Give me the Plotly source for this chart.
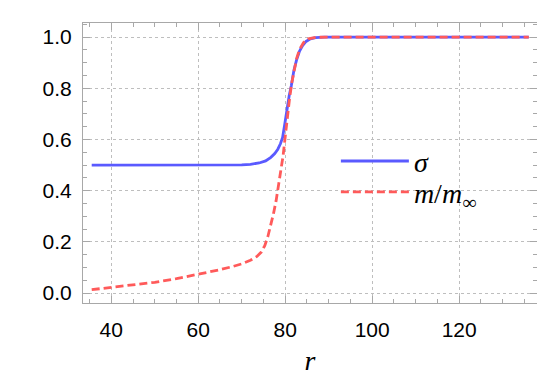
import plotly.graph_objects as go

# sigma profile
r_sigma = [35.5, 50, 65, 70, 72, 74, 75.5, 76.7, 77.6, 78.3, 78.9, 79.4, 79.9, 80.4,
           80.9, 81.4, 82.0, 82.6, 83.3, 84.0, 84.8, 85.8, 87.0, 89.0, 95, 110, 136]
sigma = [0.5, 0.5, 0.5, 0.501, 0.503, 0.508, 0.516, 0.53, 0.545, 0.562, 0.583, 0.608,
         0.66, 0.72, 0.77, 0.81, 0.87, 0.91, 0.945, 0.967, 0.983, 0.993, 0.998, 1.0,
         1.0, 1.0, 1.0]

# mass ratio m/m_inf
r_mass = [35.5, 40, 45, 50, 55, 60, 65, 68, 70, 72, 73.5, 74.5, 75.3, 76.0, 76.7, 77.3,
          77.9, 78.5, 79.0, 79.5, 80.0, 80.5, 81.0, 81.5, 82.0, 82.6, 83.3, 84.2, 85.3,
          87, 90, 100, 136]
mass = [0.013, 0.022, 0.031, 0.042, 0.056, 0.072, 0.091, 0.104, 0.114, 0.128, 0.143,
        0.16, 0.185, 0.22, 0.265, 0.31, 0.36, 0.42, 0.47, 0.535, 0.61, 0.70, 0.76, 0.82,
        0.87, 0.915, 0.952, 0.978, 0.993, 0.999, 1.0, 1.0, 1.0]

x_ticks = [40, 60, 80, 100, 120]
y_ticks = [0.0, 0.2, 0.4, 0.6, 0.8, 1.0]
y_labels = ['0.0', '0.2', '0.4', '0.6', '0.8', '1.0']

BLUE = '#5A5AFF'
RED = '#FF5A5A'
FRAME = '#A8A8A8'
GRID = '#BEBEBE'
SERIF = 'Times New Roman, Liberation Serif, DejaVu Serif, serif'

fig = go.Figure()

fig.add_trace(go.Scatter(
    x=r_sigma, y=sigma, mode='lines',
    name='<i>σ</i>', legend='legend',
    line=dict(color=BLUE, width=2.8)
))
fig.add_trace(go.Scatter(
    x=r_mass, y=mass, mode='lines',
    name='<i>m</i>/<i>m</i><sub>∞</sub>', legend='legend2',
    line=dict(color=RED, width=2.8, dash='8px,4px')
))

axis_common = dict(
    showline=True, linecolor=FRAME, linewidth=1.2, mirror='allticks',
    ticks='inside', ticklen=7, tickwidth=1, tickcolor=FRAME,
    showgrid=True, gridcolor=GRID, griddash='dot', gridwidth=1.2,
    zeroline=False,
    tickfont=dict(family='Liberation Sans, Arial', size=21, color='black'),
)

legend_common = dict(
    xanchor='left', yanchor='middle',
    bgcolor='rgba(0,0,0,0)',
    font=dict(family=SERIF, size=28, color='black'),
    itemwidth=68,
)

fig.update_layout(
    width=545, height=379,
    margin=dict(l=75, r=16, t=15, b=84),
    plot_bgcolor='white', paper_bgcolor='white',
    showlegend=True,
    legend=dict(x=0.557, y=0.506, **legend_common),
    legend2=dict(x=0.557, y=0.396, **legend_common),
    xaxis=dict(
        range=[33.5, 137.9], tickvals=x_ticks,
        minor=dict(dtick=5, tick0=0, ticks='inside', ticklen=4, tickcolor=FRAME, showgrid=False),
        title=dict(text='<i>r</i>', standoff=10,
                   font=dict(family=SERIF, size=28, color='black')),
        ticklabelstandoff=8,
        **axis_common
    ),
    yaxis=dict(
        range=[-0.039, 1.055], tickvals=y_ticks, ticktext=y_labels,
        minor=dict(dtick=0.05, tick0=0, ticks='inside', ticklen=4, tickcolor=FRAME, showgrid=False),
        ticklabelstandoff=6,
        **axis_common
    ),
)

fig.write_html("out.html")
